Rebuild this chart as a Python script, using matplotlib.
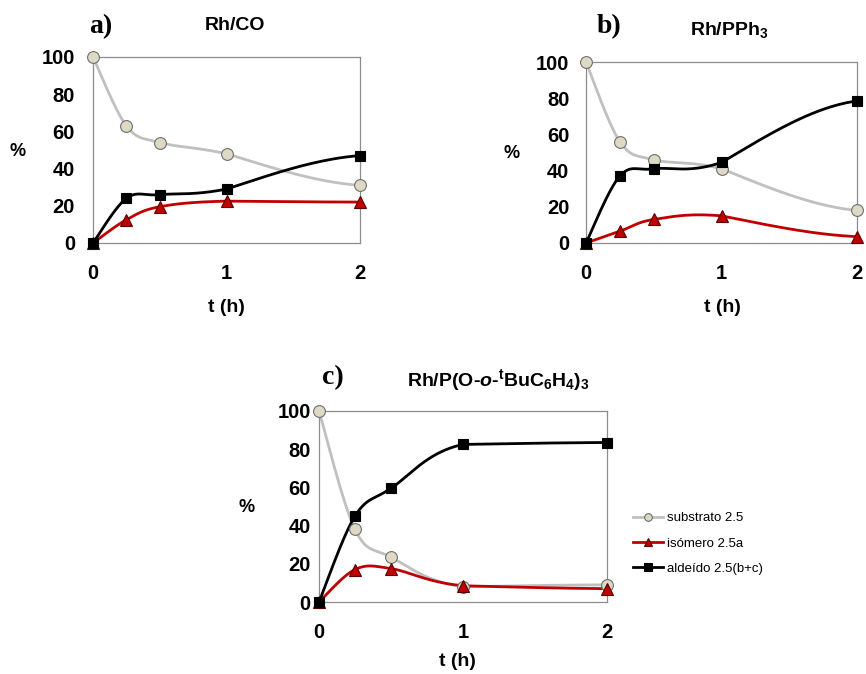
import numpy as np
import matplotlib
matplotlib.use("Agg")
import matplotlib.pyplot as plt
from matplotlib.lines import Line2D

plt.rcParams["font.family"] = ["Liberation Sans", "DejaVu Sans"]
plt.rcParams["mathtext.fontset"] = "custom"
plt.rcParams["mathtext.rm"] = "Liberation Sans:bold"
plt.rcParams["mathtext.it"] = "Liberation Sans:italic:bold"
plt.rcParams["mathtext.bf"] = "Liberation Sans:bold"

# time points (h)
t = [0, 0.25, 0.5, 1, 2]

# a) Rh/CO
sub_a = [100, 63, 54, 48, 31]
iso_a = [0, 12.5, 19.5, 22.5, 22]
ald_a = [0, 24, 26, 29, 47]

# b) Rh/PPh3
sub_b = [100, 56, 46, 41, 18]
iso_b = [0, 6.5, 13, 15, 3.5]
ald_b = [0, 37, 41, 44.5, 78.5]

# c) Rh/P(O-o-tBuC6H4)3
sub_c = [100, 38, 23.5, 8, 9]
iso_c = [0, 17, 17.5, 8.5, 7]
ald_c = [0, 45, 59.5, 82.5, 83.5]

labels = ["substrato 2.5", "isómero 2.5a", "aldeído 2.5(b+c)"]
yticks = [0, 20, 40, 60, 80, 100]
xticks = [0, 1, 2]

W, H = 866, 674
STYLES = [
    dict(color="#c0c0c0", marker="o", mfc="#ddd9c4", mec="#6f6f6f", ms=8.5),
    dict(color="#c00000", marker="^", mfc="#c00000", mec="#5a0000", ms=8.5),
    dict(color="black", marker="s", mfc="black", mec="black", ms=7.5),
]


def smooth(x, y, sx, sy, n=40):
    # bezier through the points (pixel space), control pts at 1/6 of neighbour deltas,
    # big jumps kept inside their range, last segment eases flat into the end point
    p = np.column_stack([np.asarray(x, float) * sx, np.asarray(y, float) * sy])
    pts = np.vstack([p[0], p, p[-1]])
    out = []
    s = np.linspace(0, 1, n)[:, None]
    nseg = len(p) - 1
    for i in range(1, len(pts) - 2):
        p0, p1, p2, p3 = pts[i - 1], pts[i], pts[i + 1], pts[i + 2]
        if i == nseg:
            d = p2 - p1
            c1 = p1 + np.array([d[0] / 3, 1.3 * d[1] / 3])
            c2 = p2 - np.array([d[0] / 3, 0.3 * d[1] / 3])
        else:
            c1 = p1 + (p2 - p0) / 6
            c2 = p2 - (p3 - p1) / 6
        lo, hi = min(p1[1], p2[1]), max(p1[1], p2[1])
        if hi - lo > 12 or i == nseg:
            c1[1] = np.clip(c1[1], lo, hi)
            c2[1] = np.clip(c2[1], lo, hi)
        seg = (1 - s) ** 3 * p1 + 3 * (1 - s) ** 2 * s * c1 + 3 * (1 - s) * s ** 2 * c2 + s ** 3 * p2
        out.append(seg)
    c = np.vstack(out)
    return c[:, 0] / sx, c[:, 1] / sy


def px_axes(l, t_, r, b):
    return fig.add_axes([l / W, 1 - b / H, (r - l) / W, (b - t_) / H])


def ftext(x, y, s, **kw):
    fig.text(x / W, 1 - y / H, s, ha="center", va="center", **kw)


def panel(ax, series, ypad):
    wpx = ax.get_position().width * W
    hpx = ax.get_position().height * H
    for vals, st in zip(series, STYLES):
        xs, ys = smooth(t, vals, wpx / 2, hpx / 100)
        ax.plot(xs, ys, color=st["color"], lw=2, clip_on=False, zorder=2)
        ax.plot(t, vals, ls="none", marker=st["marker"], mfc=st["mfc"],
                mec=st["mec"], ms=st["ms"], mew=0.8, clip_on=False, zorder=3)
    ax.set_xlim(0, 2)
    ax.set_ylim(0, 100)
    ax.set_xticks(xticks)
    ax.set_yticks(yticks)
    ax.set_xticklabels([str(v) for v in xticks], fontsize=14.5, fontweight="bold")
    ax.set_yticklabels([str(v) for v in yticks], fontsize=14.5, fontweight="bold")
    ax.tick_params(axis="x", length=0, pad=15)
    ax.tick_params(axis="y", length=0, pad=ypad)
    for sp in ax.spines.values():
        sp.set_color("#8c8c8c")
        sp.set_linewidth(0.9)


fig = plt.figure(figsize=(W / 100, H / 100), dpi=100, facecolor="white")

# a)
ax_a = px_axes(93, 57, 360, 243)
panel(ax_a, [sub_a, iso_a, ald_a], 13)
ftext(101, 27, "a)", family="Liberation Serif", fontsize=20, fontweight="bold")
ftext(235, 25, "Rh/CO", fontsize=14, fontweight="bold")
ftext(18, 152, "%", fontsize=13, fontweight="bold")
ftext(226, 308, "t (h)", fontsize=14, fontweight="bold")

# b)
ax_b = px_axes(586, 62, 857, 243)
panel(ax_b, [sub_b, iso_b, ald_b], 12)
ftext(609, 27, "b)", family="Liberation Serif", fontsize=20, fontweight="bold")
ftext(729, 30, r"Rh/PPh$_3$", fontsize=14, fontweight="bold")
ftext(512, 154, "%", fontsize=13, fontweight="bold")
ftext(722, 308, "t (h)", fontsize=14, fontweight="bold")

# c)
ax_c = px_axes(319, 411, 607, 602)
panel(ax_c, [sub_c, iso_c, ald_c], 6)
ftext(333, 378, "c)", family="Liberation Serif", fontsize=20, fontweight="bold")
ftext(498, 380, r"Rh/P(O-$o$-$^{\mathrm{t}}$BuC$_6$H$_4$)$_3$", fontsize=14, fontweight="bold")
ftext(247, 508, "%", fontsize=13, fontweight="bold")
ftext(457, 662, "t (h)", fontsize=14, fontweight="bold")

handles = [Line2D([], [], color=st["color"], lw=2, marker=st["marker"], mfc=st["mfc"],
                  mec=st["mec"], ms=5.5, mew=0.8) for st in STYLES]
fig.legend(handles, labels, loc="upper left", bbox_to_anchor=(633 / W, 1 - 512 / H),
           frameon=False, fontsize=9.5, handlelength=2.3, handletextpad=0.3,
           labelspacing=1.0, borderaxespad=0, borderpad=0)

fig.savefig("out.png", dpi=100, facecolor="white")
